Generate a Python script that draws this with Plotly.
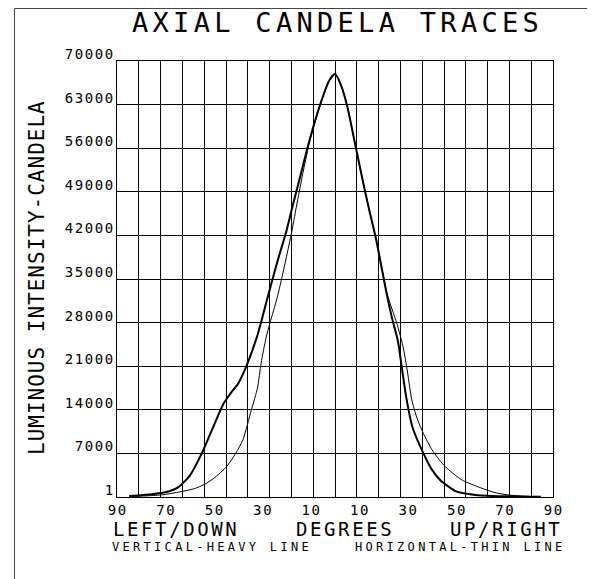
import plotly.graph_objects as go

# ---------------- data ----------------
heavy_deg = [-85, -80, -75, -70, -65, -60, -55, -50, -46, -43, -40, -36.5, -32, -28, -24, -20, -17, -14, -11, -8, -5, -2.5,
             0, 2.5, 5, 8.5, 12, 14, 17, 19.5, 21.5, 23.5, 26, 27.5, 29.5, 32, 36.5, 40, 43.5, 50, 58, 65, 75, 85]
heavy_val = [150, 300, 480, 750, 1500, 3400, 7000, 11500, 15000, 16700, 18200, 21100, 26000, 31800, 37500, 42800, 47500,
             52000, 56600, 60700, 64300, 66800, 67900, 66100, 62800, 56300, 49800, 46300, 41300, 36300, 32300, 28800,
             25000, 21000, 15800, 11200, 7000, 4400, 2700, 900, 330, 170, 80, 30]

thin_deg = [-85, -78, -72, -68, -63, -58, -54, -50, -44.7, -41, -38, -34.5, -32, -30.5, -28.5, -26.8, -24, -22, -18, -16,
            -13, -10.5, -8, -5, -2.5, 0, 2.5, 5, 8.5, 12, 14, 17, 19.5, 21.6, 25.5, 28, 29.6, 31.7, 34, 36.5, 40, 44.7,
            49, 53, 60, 66, 72, 80]
thin_val = [60, 180, 320, 550, 900, 1350, 2000, 3000, 4900, 7000, 9200, 14000, 17500, 21500, 25500, 28000, 31800, 35100,
            42300, 46500, 52500, 57000, 60500, 64200, 66800, 67900, 66100, 62800, 56300, 49800, 46300, 41300, 36500,
            32500, 27900, 24300, 20900, 15600, 12500, 10200, 7600, 5200, 3700, 2600, 1500, 700, 300, 80]

x_tick_vals = [-90, -70, -50, -30, -10, 10, 30, 50, 70, 90]
x_tick_text = ["90", "70", "50", "30", "10", "10", "30", "50", "70", "90"]
y_tick_vals = [0, 7000, 14000, 21000, 28000, 35000, 42000, 49000, 56000, 63000, 70000]
y_tick_text = ["1", "7000", "14000", "21000", "28000", "35000", "42000", "49000", "56000", "63000", "70000"]

title_text = "AXIAL CANDELA TRACES"
y_label = "LUMINOUS INTENSITY-CANDELA"
bottom_row1 = ["LEFT/DOWN", "DEGREES", "UP/RIGHT"]
bottom_row2 = ["VERTICAL-HEAVY LINE", "HORIZONTAL-THIN LINE"]

# ---------------- layout geometry ----------------
OFF = 8                      # default page body margin of the html page
W, H = 595 - OFF, 579 - OFF
L, R, T, B = 117 - OFF, 553 - OFF, 61 - OFF, 497 - OFF
PW, PH = R - L, B - T
FONT = "DejaVu Sans Mono"


def px(x):
    return (x - OFF - L) / PW


def py(y):
    return (B - (y - OFF)) / PH


def spaced(s, sp):
    if len(s) < 2:
        return s
    return f"<span style='letter-spacing:{sp}px'>{s[:-1]}</span>{s[-1]}"


fig = go.Figure()
fig.add_trace(go.Scatter(x=thin_deg, y=thin_val, mode="lines",
                         line=dict(color="black", width=1, shape="spline", smoothing=0.6),
                         hoverinfo="skip", showlegend=False))
fig.add_trace(go.Scatter(x=heavy_deg, y=heavy_val, mode="lines",
                         line=dict(color="black", width=2, shape="spline", smoothing=0.6),
                         hoverinfo="skip", showlegend=False))

annotations = [
    dict(text=spaced(title_text, 4.3), x=px(335.5), y=py(23), xanchor="center", yanchor="middle",
         font=dict(family=FONT, size=27, color="black")),
    dict(text=spaced(y_label, 1.0), x=px(37), y=py(278), textangle=-90, xanchor="center", yanchor="middle",
         font=dict(family=FONT, size=21, color="black")),
]
row1_x = [175, 344, 505]
for t, cx in zip(bottom_row1, row1_x):
    annotations.append(dict(text=spaced(t, 2.6), x=px(cx), y=py(528.5), xanchor="center", yanchor="middle",
                            font=dict(family=FONT, size=19, color="black")))
row2_x = [210, 458]
for t, cx in zip(bottom_row2, row2_x):
    annotations.append(dict(text=spaced(t, 3.3), x=px(cx), y=py(546.5), xanchor="center", yanchor="middle",
                            font=dict(family=FONT, size=12, color="black")))
for a in annotations:
    a.update(xref="paper", yref="paper", showarrow=False)

fig.update_layout(
    width=W, height=H,
    margin=dict(l=L, r=W - R, t=T, b=H - B, pad=0),
    paper_bgcolor="white", plot_bgcolor="white",
    annotations=annotations,
    shapes=[dict(type="rect", xref="paper", yref="paper",
                 x0=px(14.5), x1=px(589.5), y0=py(620), y1=py(8.5),
                 line=dict(color="#444", width=1), layer="below")],
    xaxis=dict(range=[-90, 90], tickmode="array", tickvals=x_tick_vals,
               ticktext=[spaced(t, 1.6) for t in x_tick_text], showgrid=False, zeroline=False,
               showline=True, linecolor="black", linewidth=1, mirror=True, ticks="",
               ticklabelstandoff=0,
               tickfont=dict(family=FONT, size=14, color="black"),
               minor=dict(tickmode="linear", tick0=-90, dtick=9, showgrid=True, gridcolor="black", gridwidth=1, ticks="")),
    yaxis=dict(range=[0, 70000], tickmode="array", tickvals=y_tick_vals,
               ticktext=[spaced(t, 1.6) for t in y_tick_text], showgrid=True, gridcolor="black", gridwidth=1,
               zeroline=False, showline=True, linecolor="black", linewidth=1, mirror=True, ticks="",
               ticklabelshift=-7, ticklabelstandoff=0,
               tickfont=dict(family=FONT, size=14, color="black")),
)

fig.write_html("out.html")
